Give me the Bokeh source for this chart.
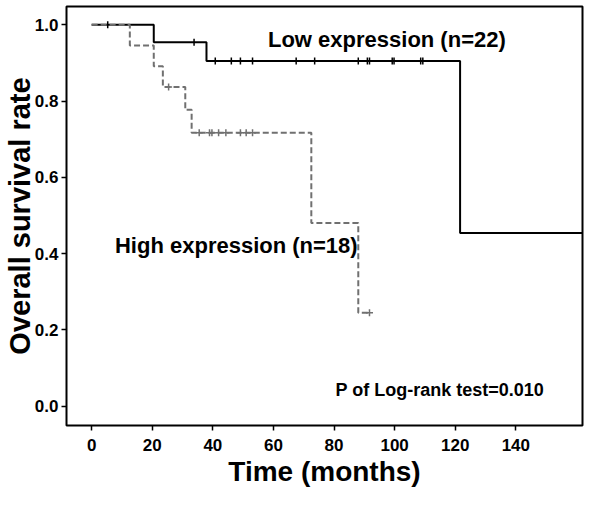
import numpy as np
from bokeh.plotting import figure
from bokeh.models import FixedTicker, PrintfTickFormatter, Range1d
from bokeh.core.properties import value
from bokeh.embed import file_html
from bokeh.resources import INLINE

# Kaplan-Meier step data (months, survival probability)
low_times = [0, 20.5, 37.9, 121.6, 165]
low_surv = [1.0, 0.954, 0.905, 0.454, 0.454]
low_censor = [5.3, 33.8, 40.8, 46.1, 49.1, 53.1, 67.5, 73.6, 88.0, 91.0, 91.7,
              99.2, 99.8, 108.6, 109.3]

high_times = [0, 12.6, 20.5, 23.5, 30.9, 33.0, 72.5, 88.0, 91.7]
high_surv = [1.0, 0.946, 0.891, 0.837, 0.777, 0.717, 0.48, 0.245, 0.245]
high_censor = [25.4, 35.5, 38.9, 39.7, 41.9, 44.3, 49.1, 51.0, 53.1, 91.7]

x_ticks = [0, 20, 40, 60, 80, 100, 120, 140]
y_ticks = [0.0, 0.2, 0.4, 0.6, 0.8, 1.0]

labels = ["Low expression (n=22)", "High expression (n=18)", "P of Log-rank test=0.010"]
label_x = [58.2, 7.7, 80.5]
label_y = [0.962, 0.421, 0.043]
label_size = ["22px", "22px", "18px"]


def step_value(times, surv, t):
    idx = np.searchsorted(times, t, side="right") - 1
    return [surv[i] for i in idx]


FONT = "Liberation Sans"

p = figure(width=584, height=489, output_backend="svg", toolbar_location=None,
           x_range=Range1d(-8.3, 162.0), y_range=Range1d(-0.051, 1.048),
           min_border_left=56, min_border_right=2, min_border_top=6,
           min_border_bottom=59)

p.xgrid.visible = False
p.ygrid.visible = False
p.outline_line_color = "black"
p.outline_line_width = 2
p.outline_line_alpha = 1.0
p.background_fill_color = "white"
p.border_fill_color = "white"

# curves
p.step(low_times, low_surv, mode="after", line_color="black", line_width=2)
p.step(high_times, high_surv, mode="after", line_color="#707070", line_width=2,
       line_dash="6 3")

# censor marks
p.scatter(low_censor, step_value(low_times, low_surv, low_censor), marker="dash",
          angle=np.pi / 2, size=7, line_color="black", line_width=1.5)
p.scatter(high_censor, step_value(high_times, high_surv, high_censor), marker="cross",
          size=7, line_color="#707070", line_width=1.5)

# annotations
for txt, tx, ty, sz in zip(labels, label_x, label_y, label_size):
    p.text(x=[tx], y=[ty], text=[txt], text_font=value(FONT), text_font_style="bold",
           text_font_size=sz, text_baseline="middle", text_align="left",
           text_color="black")

for ax in (p.xaxis[0], p.yaxis[0]):
    ax.axis_line_color = None
    ax.major_tick_in = 0
    ax.major_tick_out = 5
    ax.major_tick_line_color = "black"
    ax.major_tick_line_width = 1.5
    ax.minor_tick_line_color = None
    ax.major_label_text_font = FONT
    ax.major_label_text_font_style = "bold"
    ax.major_label_text_font_size = "17px"
    ax.major_label_text_color = "black"
    ax.axis_label_text_font = FONT
    ax.axis_label_text_font_style = "bold"
    ax.axis_label_text_color = "black"

p.xaxis.axis_label_text_font_size = "28px"
p.yaxis.axis_label_text_font_size = "29px"
p.xaxis.ticker = FixedTicker(ticks=x_ticks)
p.yaxis.ticker = FixedTicker(ticks=y_ticks)
p.yaxis.formatter = PrintfTickFormatter(format="%.1f")
p.xaxis.axis_label = "Time (months)"
p.yaxis.axis_label = "Overall survival rate"
p.xaxis.major_label_standoff = 8
p.xaxis.axis_label_standoff = 2
p.yaxis.major_label_standoff = 3
p.yaxis.axis_label_standoff = -4

open("out.html", "w").write(file_html(p, INLINE))
